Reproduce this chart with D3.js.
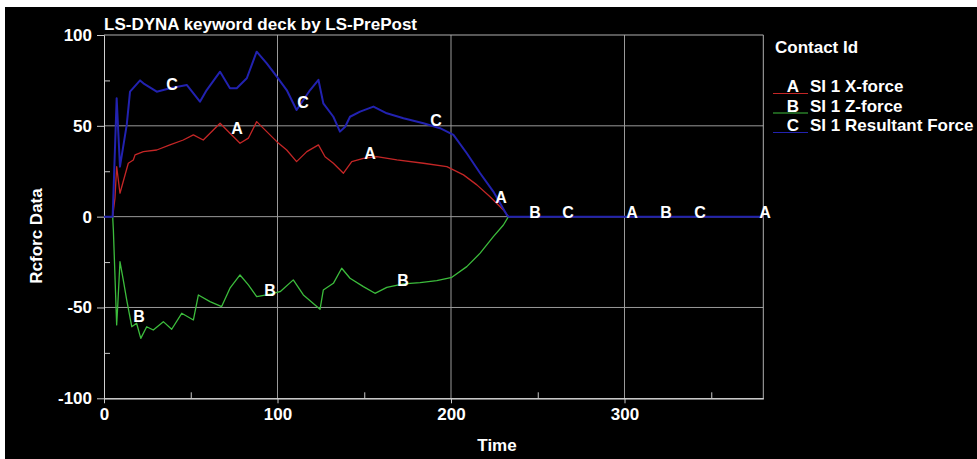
<!DOCTYPE html>
<html>
<head>
<meta charset="utf-8">
<script src="https://cdn.jsdelivr.net/npm/d3@7"></script>
<style>
  body { margin: 0; background: #fff; }
  svg { display: block; font-family: "Liberation Sans", Arial, sans-serif; font-weight: bold; }
</style>
</head>
<body>
<svg id="chart" width="977" height="459"></svg>
<script>
// [time, force]
const pointsA = [[0,0],[5,0],[6.3,10],[7.3,27.5],[9.2,12.9],[14,29.4],[16.9,31.2],[17.9,34],[22.7,35.8],[30.4,36.7],
  [38,39.5],[45.7,42.2],[51.5,45],[57.2,42.2],[63,47.7],[66.9,51.4],[72.6,45.9],[78.4,40.4],[83.2,43.2],[88,52.3],
  [93.8,46.8],[99.6,41.3],[105.3,36.7],[111,30.3],[116.9,35.8],[123.6,39.5],[127.4,33],[132.2,29.4],[138,23.9],[142.8,30.3],
  [149.5,32.1],[157.2,33],[168.8,31.2],[184.1,29.4],[197.6,27.5],[207.2,23],[214.9,17.5],[222.5,11],[230.2,3.7],[233.1,0],[380,0]];

const pointsB = [[0,0],[5,0],[5.4,-7.3],[7.3,-59.6],[8,-47.5],[9.2,-24.8],[11.1,-34.8],[13.1,-45.9],[16,-60.6],[18.8,-58.7],
  [21.2,-67],[24.6,-60.6],[28.4,-62.4],[34.2,-57.8],[39,-62],[44.8,-53.2],[51.5,-56.9],[54.4,-43.1],[61.1,-46.8],[67.8,-49.5],
  [72.6,-39.4],[78.4,-32.1],[83.2,-37.6],[88,-44],[93.8,-43.1],[101.5,-41.3],[109.1,-34.8],[114.9,-43.1],[124.5,-51],[126.4,-40.4],
  [132.2,-36.7],[137,-28.4],[141.8,-33.9],[149.5,-38.5],[156.2,-42.2],[163,-38.9],[172.6,-37],[182.2,-36.3],[191.8,-35.2],[200.5,-33.4],
  [209.1,-27.5],[216.8,-20.1],[224.4,-11],[230.2,-4.6],[233.1,0],[380,0]];

const pointsC = [[0,0],[5,0],[7.3,65.2],[9.2,27.5],[13.1,50.5],[15,68.8],[20.8,75],[22.7,73.4],[30.4,68.8],[38,70.7],
  [47.7,72.5],[55.3,63.3],[59.2,69.7],[66.9,79.8],[72.6,70.7],[76.5,70.7],[82.3,76.2],[88,90.8],[93.8,84.4],[99.6,77.1],
  [105.3,69.7],[111,58.7],[118.8,69.7],[123.6,75.3],[126.4,62.4],[132.2,55],[136,46.8],[139,49.5],[141.8,55],[147.6,57.8],
  [155.3,60.6],[163,56.9],[172.6,54.2],[184.1,51.4],[193.7,48.7],[201.4,45],[209.1,34.9],[216.8,23.9],[224.4,13.8],[232.2,0.9],
  [233.1,0],[380,0]];

// curve letter positions
const labelsA = [[76.7,48.3],[153.4,34.5],[228.9,10.3],[304.4,2.5],[381,2.5]];
const labelsB = [[20.2,-54.7],[95.7,-40.9],[172.4,-35.4],[248.5,2.5],[324,2.5]];
const labelsC = [[39.2,72.5],[114.7,62.6],[191.4,53.2],[267.5,2.5],[343.6,2.5]];

const seriesNames = ["SI 1 X-force", "SI 1 Z-force", "SI 1 Resultant Force"];
const seriesLetters = ["A", "B", "C"];
const seriesColors = ["#c42626", "#3cbc3c", "#2222b0"];

const xMajor = [0, 100, 200, 300];
const xMinor = [50, 150, 250, 350];
const yMajor = [-100, -50, 0, 50, 100];
const yMinor = [-75, -25, 25, 75];

const svg = d3.select("#chart");

svg.append("rect")
  .attr("x", 5).attr("y", 7)
  .attr("width", 972).attr("height", 452)
  .attr("fill", "#000");

const x = d3.scaleLinear().domain([0, 380]).range([104, 763.3]);
const y = d3.scaleLinear().domain([-100, 100]).range([398.3, 35]);

// grid
svg.append("g").selectAll("line")
  .data([100, 200, 300])
  .enter().append("line")
  .attr("x1", d => x(d)).attr("x2", d => x(d))
  .attr("y1", y(100)).attr("y2", y(-100))
  .attr("stroke", "#9a9a9a");

svg.append("g").selectAll("line")
  .data([50, 0, -50])
  .enter().append("line")
  .attr("x1", x(0)).attr("x2", x(380))
  .attr("y1", d => y(d)).attr("y2", d => y(d))
  .attr("stroke", "#9a9a9a");

// frame top / right
svg.append("path")
  .attr("d", `M${x(0)},${y(100)}H${x(380)}V${y(-100)}`)
  .attr("fill", "none")
  .attr("stroke", "#b0b0b0");

// axes
const plainNum = d => String(d);

svg.append("g")
  .attr("transform", `translate(${x(0)},0)`)
  .call(d3.axisLeft(y).tickValues(yMajor).tickSize(7).tickSizeOuter(0).tickPadding(5).tickFormat(plainNum));

svg.append("g")
  .attr("transform", `translate(${x(0)},0)`)
  .call(d3.axisRight(y).tickValues(yMinor).tickSize(6).tickSizeOuter(0).tickFormat(""));

const xAxis = svg.append("g")
  .attr("transform", `translate(0,${y(-100)})`)
  .call(d3.axisBottom(x).tickValues(xMajor).tickSize(5).tickSizeOuter(0).tickPadding(5).tickFormat(plainNum));

svg.append("g")
  .attr("transform", `translate(0,${y(-100)})`)
  .call(d3.axisTop(x).tickValues(xMinor).tickSize(6).tickSizeOuter(0).tickFormat(""));

svg.selectAll(".domain").attr("stroke", "#d0d0d0");
xAxis.select(".domain").attr("stroke", "#fff");
svg.selectAll(".tick line").attr("stroke", "#c8c8c8");
svg.selectAll(".tick text")
  .attr("fill", "#fff")
  .style("font-family", "'Liberation Sans', Arial, sans-serif")
  .style("font-weight", "bold")
  .style("font-size", "17px");

// curves
const line = d3.line()
  .x(d => x(d[0]))
  .y(d => y(d[1]));

const allPoints = [pointsA, pointsB, pointsC];
const allLabels = [labelsA, labelsB, labelsC];

allPoints.forEach((pts, i) => {
  svg.append("path")
    .datum(pts)
    .attr("fill", "none")
    .attr("stroke", seriesColors[i])
    .attr("stroke-width", i === 2 ? 2 : 1.3)
    .attr("stroke-linejoin", "round")
    .attr("d", line);
});

allLabels.forEach((lbls, i) => {
  svg.append("g").selectAll("text")
    .data(lbls)
    .enter().append("text")
    .attr("x", d => x(d[0]))
    .attr("y", d => y(d[1]))
    .attr("text-anchor", "middle")
    .attr("dominant-baseline", "central")
    .attr("font-size", "16px")
    .attr("fill", "#fff")
    .text(seriesLetters[i]);
});

// titles
svg.append("text")
  .attr("x", 104).attr("y", 30)
  .attr("font-size", "17px")
  .attr("fill", "#fff")
  .text("LS-DYNA keyword deck by LS-PrePost");

svg.append("text")
  .attr("transform", "translate(42,236) rotate(-90)")
  .attr("text-anchor", "middle")
  .attr("font-size", "17px")
  .attr("fill", "#fff")
  .text("Rcforc Data");

svg.append("text")
  .attr("x", 497).attr("y", 451)
  .attr("text-anchor", "middle")
  .attr("font-size", "17px")
  .attr("fill", "#fff")
  .text("Time");

// legend
svg.append("text")
  .attr("x", 775).attr("y", 53)
  .attr("font-size", "17px")
  .attr("fill", "#fff")
  .text("Contact Id");

const legend = svg.append("g").selectAll("g")
  .data(seriesNames)
  .enter().append("g")
  .attr("transform", (d, i) => `translate(0,${92 + i * 19.5})`);

legend.append("line")
  .attr("x1", 773).attr("x2", 808)
  .attr("y1", 1.5).attr("y2", 1.5)
  .attr("stroke", (d, i) => seriesColors[i]);

legend.append("text")
  .attr("x", 793).attr("text-anchor", "middle")
  .attr("font-size", "17px")
  .attr("fill", "#fff")
  .text((d, i) => seriesLetters[i]);

legend.append("text")
  .attr("x", 810)
  .attr("font-size", "17px")
  .attr("fill", "#fff")
  .text(d => d);
</script>
</body>
</html>
